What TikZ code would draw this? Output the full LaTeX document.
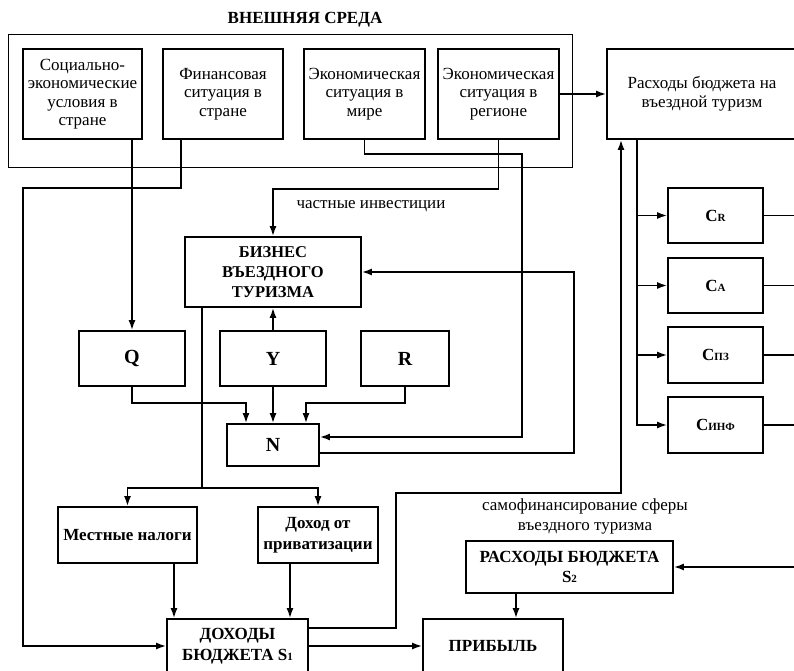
\documentclass[tikz,border=0pt]{standalone}
\usepackage{fontspec}
\setmainfont{Liberation Serif}
\usetikzlibrary{arrows.meta}
\newcommand{\lowtxt}[1]{{\fontsize{11}{11}\selectfont #1}}

\begin{document}
\begin{tikzpicture}[x=1pt,y=1pt,yscale=-1,xscale=1,
  box/.style={draw,line width=1.8pt,inner sep=1pt,align=center,font=\fontsize{17}{18.5}\selectfont},
  bbox/.style={box,font=\bfseries\fontsize{17}{20.5}\selectfont},
  lbox/.style={box,font=\bfseries\fontsize{20}{20}\selectfont},
  ln/.style={line width=1.6pt},
  arr/.style={line width=1.6pt,-{Latex[length=10pt,width=7pt]}},
  txt/.style={inner sep=0.75pt,align=center,font=\fontsize{17}{20}\selectfont}]
\useasboundingbox (0,0) rectangle (794,671);

%Shape: Rectangle (external environment)
\draw [line width=0.9pt] (8,34) rectangle (572,167);
% Text Node
\node [font=\bfseries\fontsize{17}{17}\selectfont] (title) at (305,20) {ВНЕШНЯЯ СРЕДА};

%Shape: Rectangle
\node [box,minimum width=119pt,minimum height=90pt] (soc) at (82.5,94) {Социально-\\экономические\\условия в\\стране};
%Shape: Rectangle
\node [box,minimum width=120pt,minimum height=90pt] (fin) at (223,94) {Финансовая\\ситуация в\\стране};
%Shape: Rectangle
\node [box,minimum width=121pt,minimum height=90pt] (mir) at (364.5,94) {Экономическая\\ситуация в\\мире};
%Shape: Rectangle
\node [box,minimum width=121pt,minimum height=90pt] (reg) at (498.5,94) {Экономическая\\ситуация в\\регионе};
%Shape: Rectangle
\node [box,minimum width=190pt,minimum height=90pt] (rash) at (702,94) {Расходы бюджета на\\въездной туризм};

%Shape: Rectangle
\node [bbox,font=\bfseries\fontsize{16.5}{20}\selectfont,minimum width=176pt,minimum height=70pt] (biz) at (273,272) {БИЗНЕС\\ВЪЕЗДНОГО\\ТУРИЗМА};
%Shape: Rectangle
\node [lbox,minimum width=106pt,minimum height=55pt] (Q) at (132,358.5) {Q};
%Shape: Rectangle
\node [lbox,minimum width=106pt,minimum height=55pt] (Y) at (273,358.5) {Y};
%Shape: Rectangle
\node [lbox,minimum width=88pt,minimum height=55pt] (R) at (405,358.5) {R};
%Shape: Rectangle
\node [lbox,minimum width=92pt,minimum height=42pt] (N) at (273,445) {N};

%Shape: Rectangle
\node [bbox,minimum width=139pt,minimum height=56pt] (mest) at (127.5,535) {Местные налоги};
%Shape: Rectangle
\node [bbox,minimum width=120pt,minimum height=56pt] (priv) at (318,535) {Доход от\\приватизации};
%Shape: Rectangle
\node [bbox,minimum width=207pt,minimum height=52pt] (s2) at (569.5,567) {РАСХОДЫ БЮДЖЕТА\\S\lowtxt{2}};
%Shape: Rectangle
\node [bbox,minimum width=141pt,minimum height=54pt] (doh) at (237.5,646) {ДОХОДЫ\\БЮДЖЕТА S\lowtxt{1}};
%Shape: Rectangle
\node [bbox,minimum width=140pt,minimum height=54pt] (prib) at (493,646) {ПРИБЫЛЬ};

%Shape: Rectangle
\node [bbox,minimum width=95pt,minimum height=55pt] (cr) at (715.5,215.5) {C\lowtxt{R}};
%Shape: Rectangle
\node [bbox,minimum width=95pt,minimum height=55pt] (ca) at (715.5,285.5) {C\lowtxt{A}};
%Shape: Rectangle
\node [bbox,minimum width=95pt,minimum height=56pt] (cpz) at (715.5,355) {С\lowtxt{ПЗ}};
%Shape: Rectangle
\node [bbox,minimum width=95pt,minimum height=56pt] (cinf) at (715.5,425) {С\lowtxt{ИНФ}};

% Text Node
\node [txt] (inv) at (371,206) {частные инвестиции};
% Text Node
\node [txt] (self) at (585,516) {самофинансирование сферы\\въездного туризма};

%Straight Lines
\draw [arr] (soc.south -| Q.north) -- (Q.north);
%Straight Lines
\draw [arr] ([xshift=-42pt]fin.south) |- (23,188) |- (doh.west);
%Straight Lines
\draw [arr] (mir.south) |- (522,154) |- ([yshift=-8pt]N.east);
%Straight Lines
\draw [arr] (reg.south) -- ++(0,49) -| (biz.north);
%Straight Lines
\draw [arr] (reg.east) -- (rash.west);
%Straight Lines
\draw [arr] (Y.north) -- (biz.south);
%Straight Lines
\draw [arr] (Q.south) -- ++(0,16) -| ([xshift=-27pt]N.north);
%Straight Lines
\draw [arr] (Y.south) -- (N.north);
%Straight Lines
\draw [arr] (R.south) -- ++(0,16) -| ([xshift=33pt]N.north);
%Straight Lines
\draw [arr] ([yshift=8pt]N.east) -- ++(254,0) |- (biz.east);
%Straight Lines
\draw [arr] ([xshift=-71pt]biz.south) -- ++(0,180) -| (mest.north);
\draw [arr] ([xshift=-71pt]biz.south) -- ++(0,180) -| (priv.north);
%Straight Lines
\draw [arr] ([xshift=46.5pt]mest.south) -- ([xshift=46.5pt]mest.south |- doh.north);
\draw [arr] ([xshift=-28pt]priv.south) -- ([xshift=-28pt]priv.south |- doh.north);
%Straight Lines
\draw [arr] (doh.east) -- (prib.west);
%Straight Lines
\draw [arr] ([yshift=-18pt]doh.east) -| (396,493) -| ([xshift=-81pt]rash.south);
%Straight Lines
\draw [arr] ([xshift=-53.5pt]s2.south) -- ([xshift=-53.5pt]s2.south |- prib.north);
%Straight Lines
\coordinate (edge) at (800,567);
\draw [arr] (edge) -- (s2.east);

%Straight Lines
\draw [arr] ([xshift=-65pt]rash.south) |- (cr.west);
\draw [arr] ([xshift=-65pt]rash.south) |- (ca.west);
\draw [arr] ([xshift=-65pt]rash.south) |- (cpz.west);
\draw [arr] ([xshift=-65pt]rash.south) |- (cinf.west);
%Straight Lines
\draw [ln] (cr.east) -- ++(40,0);
\draw [ln] (ca.east) -- ++(40,0);
\draw [ln] (cpz.east) -- ++(40,0);
\draw [ln] (cinf.east) -- ++(40,0);

\end{tikzpicture}
\end{document}
